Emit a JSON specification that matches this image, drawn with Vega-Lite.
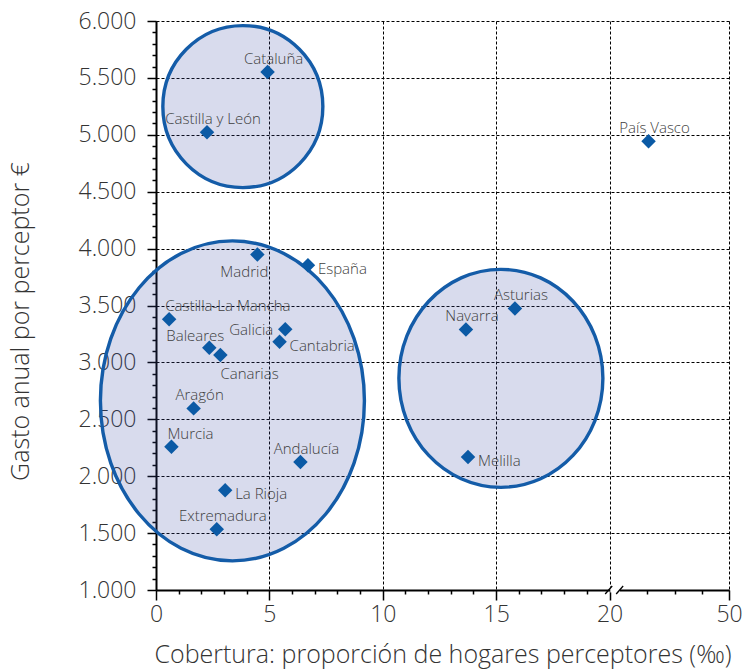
{
  "$schema": "https://vega.github.io/schema/vega-lite/v6.json",
  "width": 573,
  "height": 569,
  "autosize": "none",
  "padding": {"left": 156, "top": 21, "right": 15, "bottom": 81},
  "background": "white",
  "config": {
    "view": {"stroke": null},
    "font": "Open Sans",
    "text": {"font": "Open Sans", "fontWeight": 300}
  },
  "datasets": {
    "puntos": [
      {"region": "Cataluña", "cobertura": 4.92, "gasto": 5552},
      {"region": "Castilla y León", "cobertura": 2.25, "gasto": 5022},
      {"region": "Madrid", "cobertura": 4.47, "gasto": 3948},
      {"region": "España", "cobertura": 6.7, "gasto": 3854},
      {"region": "Castilla-La Mancha", "cobertura": 0.58, "gasto": 3380},
      {"region": "Galicia", "cobertura": 5.7, "gasto": 3292},
      {"region": "Baleares", "cobertura": 2.35, "gasto": 3128},
      {"region": "Canarias", "cobertura": 2.84, "gasto": 3064},
      {"region": "Cantabria", "cobertura": 5.45, "gasto": 3181},
      {"region": "Aragón", "cobertura": 1.66, "gasto": 2596},
      {"region": "Murcia", "cobertura": 0.68, "gasto": 2259},
      {"region": "Andalucía", "cobertura": 6.37, "gasto": 2124},
      {"region": "La Rioja", "cobertura": 3.05, "gasto": 1876},
      {"region": "Extremadura", "cobertura": 2.68, "gasto": 1533},
      {"region": "País Vasco", "cobertura": 29.8, "gasto": 4943},
      {"region": "Asturias", "cobertura": 15.83, "gasto": 3474},
      {"region": "Navarra", "cobertura": 13.67, "gasto": 3290},
      {"region": "Melilla", "cobertura": 13.76, "gasto": 2168}
    ],
    "elipses": [
      {"grupo": "A", "cx": 3.83, "cy": 5248},
      {"grupo": "B", "cx": 3.37, "cy": 2662},
      {"grupo": "C", "cx": 15.21, "cy": 2860}
    ]
  },
  "resolve": {"axis": {"x": "independent", "y": "independent"}},
  "layer": [
    {
      "data": {"name": "elipses"},
      "mark": {"type": "point", "filled": true, "fill": "#3a4ba6", "fillOpacity": 0.2, "stroke": "#145ca8", "strokeWidth": 3.4, "strokeOpacity": 1, "opacity": 1, "size": 4},
      "encoding": {
        "x": {
          "field": "cx", "type": "quantitative",
          "scale": {"domain": [0, 20, 50], "range": [0, 453.5, 573], "nice": false, "zero": false},
          "axis": {
            "orient": "bottom",
            "title": "Cobertura: proporción de hogares perceptores (‰)",
            "values": [0, 5, 10, 15, 20, 50], "format": "d",
            "grid": true, "gridColor": "black", "gridDash": [3, 2], "gridWidth": 1, "gridOpacity": 1,
            "domainColor": "black", "domainWidth": 2,
            "tickColor": "black", "tickSize": 10, "tickWidth": 1.5,
            "labelFont": "Open Sans", "labelFontWeight": 300, "labelFontSize": 23, "labelColor": "#333", "labelPadding": 3,
            "labelFlush": false, "labelOverlap": false, "labelBound": false,
            "titleFont": "Open Sans", "titleFontWeight": 300, "titleFontSize": 25, "titleColor": "#333", "titlePadding": 16
          }
        },
        "y": {
          "field": "cy", "type": "quantitative",
          "scale": {"domain": [1000, 6000], "nice": false, "zero": false},
          "axis": {
            "orient": "left",
            "title": "Gasto anual por perceptor €",
            "values": [1000, 1500, 2000, 2500, 3000, 3500, 4000, 4500, 5000, 5500, 6000],
            "labelExpr": "replace(format(datum.value, ','), ',', '.')",
            "grid": true, "gridColor": "black", "gridDash": [3, 2], "gridWidth": 1, "gridOpacity": 1,
            "domainColor": "black", "domainWidth": 2,
            "tickColor": "black", "tickSize": 9, "tickWidth": 1.5,
            "labelFont": "Open Sans", "labelFontWeight": 300, "labelFontSize": 23, "labelColor": "#333", "labelPadding": 11,
            "labelOverlap": false, "labelBound": false, "labelFlush": false,
            "titleFont": "Open Sans", "titleFontWeight": 300, "titleFontSize": 25, "titleColor": "#333", "titlePadding": 45,
            "titleY": 300
          }
        },
        "shape": {
          "field": "grupo", "type": "nominal", "legend": null,
          "scale": {
            "domain": ["A", "B", "C"],
            "range": [
              "M -80 0 A 80 81 0 1 0 80 0 A 80 81 0 1 0 -80 0 Z",
              "M -132 0 A 132 160 0 1 0 132 0 A 132 160 0 1 0 -132 0 Z",
              "M -102 0 A 102 109 0 1 0 102 0 A 102 109 0 1 0 -102 0 Z"
            ]
          }
        }
      }
    },
    {
      "data": {"name": "puntos"},
      "mark": {"type": "point", "shape": "diamond", "filled": true, "fill": "#0b5aa5", "opacity": 1, "size": 210, "strokeWidth": 0},
      "encoding": {
        "x": {
          "field": "cobertura", "type": "quantitative",
          "axis": {
            "orient": "bottom",
            "title": null, "labels": false, "grid": false, "domain": false,
            "values": [1, 2, 3, 4, 6, 7, 8, 9, 11, 12, 13, 14, 16, 17, 18, 19, 29.4, 36.5, 43.2],
            "tickColor": "black", "tickSize": 4, "tickWidth": 1.5
          }
        },
        "y": {
          "field": "gasto", "type": "quantitative",
          "axis": {
            "orient": "left",
            "title": null, "labels": false, "grid": false, "domain": false,
            "values": [1100, 1200, 1300, 1400, 1600, 1700, 1800, 1900, 2100, 2200, 2300, 2400, 2600, 2700, 2800, 2900, 3100, 3200, 3300, 3400, 3600, 3700, 3800, 3900, 4100, 4200, 4300, 4400, 4600, 4700, 4800, 4900, 5100, 5200, 5300, 5400, 5600, 5700, 5800, 5900],
            "tickColor": "black", "tickSize": 4, "tickWidth": 1.5
          }
        }
      }
    },
    {
      "data": {"name": "puntos"},
      "transform": [{"filter": {"field": "region", "oneOf": ["Cataluña", "Castilla y León", "Aragón", "Andalucía", "Extremadura", "País Vasco", "Asturias", "Navarra"]}}],
      "mark": {"type": "text", "align": "center", "baseline": "middle", "dx": 6, "dy": -13, "fontSize": 15, "color": "#3d3d3d"},
      "encoding": {
        "x": {"field": "cobertura", "type": "quantitative", "axis": null},
        "y": {"field": "gasto", "type": "quantitative", "axis": null},
        "text": {"field": "region"}
      }
    },
    {
      "data": {"name": "puntos"},
      "transform": [{"filter": {"field": "region", "oneOf": ["Castilla-La Mancha", "Murcia"]}}],
      "mark": {"type": "text", "align": "left", "baseline": "middle", "dx": -4, "dy": -13, "fontSize": 15, "color": "#3d3d3d"},
      "encoding": {
        "x": {"field": "cobertura", "type": "quantitative", "axis": null},
        "y": {"field": "gasto", "type": "quantitative", "axis": null},
        "text": {"field": "region"}
      }
    },
    {
      "data": {"name": "puntos"},
      "transform": [{"filter": {"field": "region", "oneOf": ["Baleares"]}}],
      "mark": {"type": "text", "align": "center", "baseline": "middle", "dx": -14, "dy": -12, "fontSize": 15, "color": "#3d3d3d"},
      "encoding": {
        "x": {"field": "cobertura", "type": "quantitative", "axis": null},
        "y": {"field": "gasto", "type": "quantitative", "axis": null},
        "text": {"field": "region"}
      }
    },
    {
      "data": {"name": "puntos"},
      "transform": [{"filter": {"field": "region", "oneOf": ["Galicia"]}}],
      "mark": {"type": "text", "align": "right", "baseline": "middle", "dx": -12, "dy": 1, "fontSize": 15, "color": "#3d3d3d"},
      "encoding": {
        "x": {"field": "cobertura", "type": "quantitative", "axis": null},
        "y": {"field": "gasto", "type": "quantitative", "axis": null},
        "text": {"field": "region"}
      }
    },
    {
      "data": {"name": "puntos"},
      "transform": [{"filter": {"field": "region", "oneOf": ["España", "La Rioja", "Cantabria", "Melilla"]}}],
      "mark": {"type": "text", "align": "left", "baseline": "middle", "dx": 10, "dy": 4, "fontSize": 15, "color": "#3d3d3d"},
      "encoding": {
        "x": {"field": "cobertura", "type": "quantitative", "axis": null},
        "y": {"field": "gasto", "type": "quantitative", "axis": null},
        "text": {"field": "region"}
      }
    },
    {
      "data": {"name": "puntos"},
      "transform": [{"filter": {"field": "region", "oneOf": ["Madrid"]}}],
      "mark": {"type": "text", "align": "center", "baseline": "middle", "dx": -13, "dy": 17, "fontSize": 15, "color": "#3d3d3d"},
      "encoding": {
        "x": {"field": "cobertura", "type": "quantitative", "axis": null},
        "y": {"field": "gasto", "type": "quantitative", "axis": null},
        "text": {"field": "region"}
      }
    },
    {
      "data": {"name": "puntos"},
      "transform": [{"filter": {"field": "region", "oneOf": ["Canarias"]}}],
      "mark": {"type": "text", "align": "left", "baseline": "middle", "dx": 0, "dy": 19, "fontSize": 15, "color": "#3d3d3d"},
      "encoding": {
        "x": {"field": "cobertura", "type": "quantitative", "axis": null},
        "y": {"field": "gasto", "type": "quantitative", "axis": null},
        "text": {"field": "region"}
      }
    },
    {
      "data": {"values": [{}]},
      "mark": {"type": "rule", "color": "white", "strokeWidth": 5},
      "encoding": {
        "x": {"datum": 20.2, "type": "quantitative", "axis": null},
        "x2": {"datum": 22.6},
        "y": {"datum": 1000, "type": "quantitative", "axis": null}
      }
    },
    {
      "data": {"values": [{}]},
      "mark": {"type": "rule", "color": "black", "strokeWidth": 1.3},
      "encoding": {
        "x": {"datum": 19.81, "type": "quantitative", "axis": null},
        "x2": {"datum": 20.68},
        "y": {"datum": 965, "type": "quantitative", "axis": null},
        "y2": {"datum": 1035}
      }
    },
    {
      "data": {"values": [{}]},
      "mark": {"type": "rule", "color": "black", "strokeWidth": 1.3},
      "encoding": {
        "x": {"datum": 21.68, "type": "quantitative", "axis": null},
        "x2": {"datum": 23.43},
        "y": {"datum": 965, "type": "quantitative", "axis": null},
        "y2": {"datum": 1035}
      }
    }
  ]
}
